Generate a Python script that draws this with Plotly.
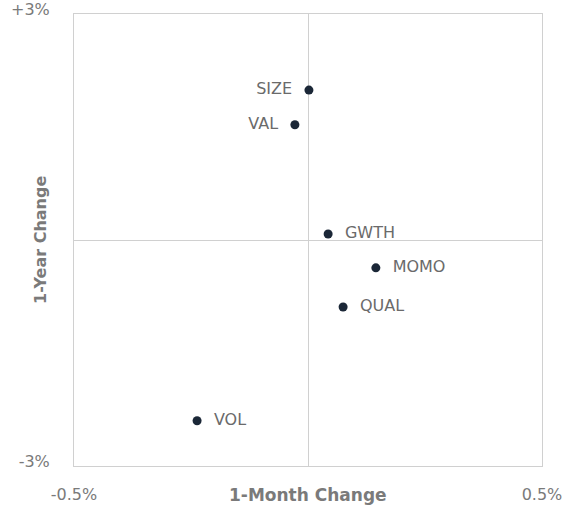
import plotly.graph_objects as go

factors = ["SIZE", "VAL", "GWTH", "MOMO", "QUAL", "VOL"]
month_chg = [0.002, -0.028, 0.043, 0.145, 0.075, -0.237]
year_chg = [1.99, 1.53, 0.08, -0.37, -0.89, -2.40]
label_pos = ["middle left", "middle left", "middle right", "middle right", "middle right", "middle right"]

x_ticks = [-0.5, 0.5]
x_ticktext = ["-0.5%", "0.5%"]
y_ticks = [-3, 3]
y_ticktext = ["-3%", "+3%"]

font_family = "DejaVu Sans, sans-serif"
grey = "#7a7a7a"

fig = go.Figure()
fig.add_trace(go.Scatter(
    x=month_chg, y=year_chg, mode="markers+text",
    text=["  " + f + "  " for f in factors],
    textposition=label_pos,
    textfont=dict(family=font_family, size=16, color="#6a6a6a"),
    marker=dict(size=9, color="#1b2737"),
    hoverinfo="skip", showlegend=False,
))

fig.update_layout(
    width=563, height=507,
    margin=dict(l=74, r=21, t=14, b=41),
    paper_bgcolor="white", plot_bgcolor="white",
    font=dict(family=font_family, color=grey),
    annotations=[
        dict(text="<b>1-Month Change</b>", x=0.5, y=0, xref="paper", yref="paper",
             xanchor="center", yanchor="middle", yshift=-29, showarrow=False,
             font=dict(size=17, color=grey)),
        dict(text="<b>1-Year Change</b>", x=0, y=0.5, xref="paper", yref="paper",
             xanchor="center", yanchor="middle", xshift=-34, textangle=-90, showarrow=False,
             font=dict(size=16, color=grey)),
    ],
)
fig.update_xaxes(
    range=[-0.5, 0.5], tickvals=x_ticks, ticktext=x_ticktext,
    tickfont=dict(size=16, color=grey), ticklabelstandoff=14,
    showgrid=False, zeroline=True, zerolinecolor="#d0d0d0", zerolinewidth=1,
    showline=True, mirror=True, linecolor="#d0d0d0", linewidth=1, ticks="",
    automargin=False,
)
fig.update_yaxes(
    range=[-3, 3], tickvals=y_ticks, ticktext=y_ticktext,
    tickfont=dict(size=16, color=grey), ticklabelstandoff=20, ticklabelshift=-5,
    ticklabeloverflow="allow",
    showgrid=False, zeroline=True, zerolinecolor="#d0d0d0", zerolinewidth=1,
    showline=True, mirror=True, linecolor="#d0d0d0", linewidth=1, ticks="",
    automargin=False,
)

fig.write_html("out.html", config={"displayModeBar": False},
               post_script="document.body.style.margin='0';")
